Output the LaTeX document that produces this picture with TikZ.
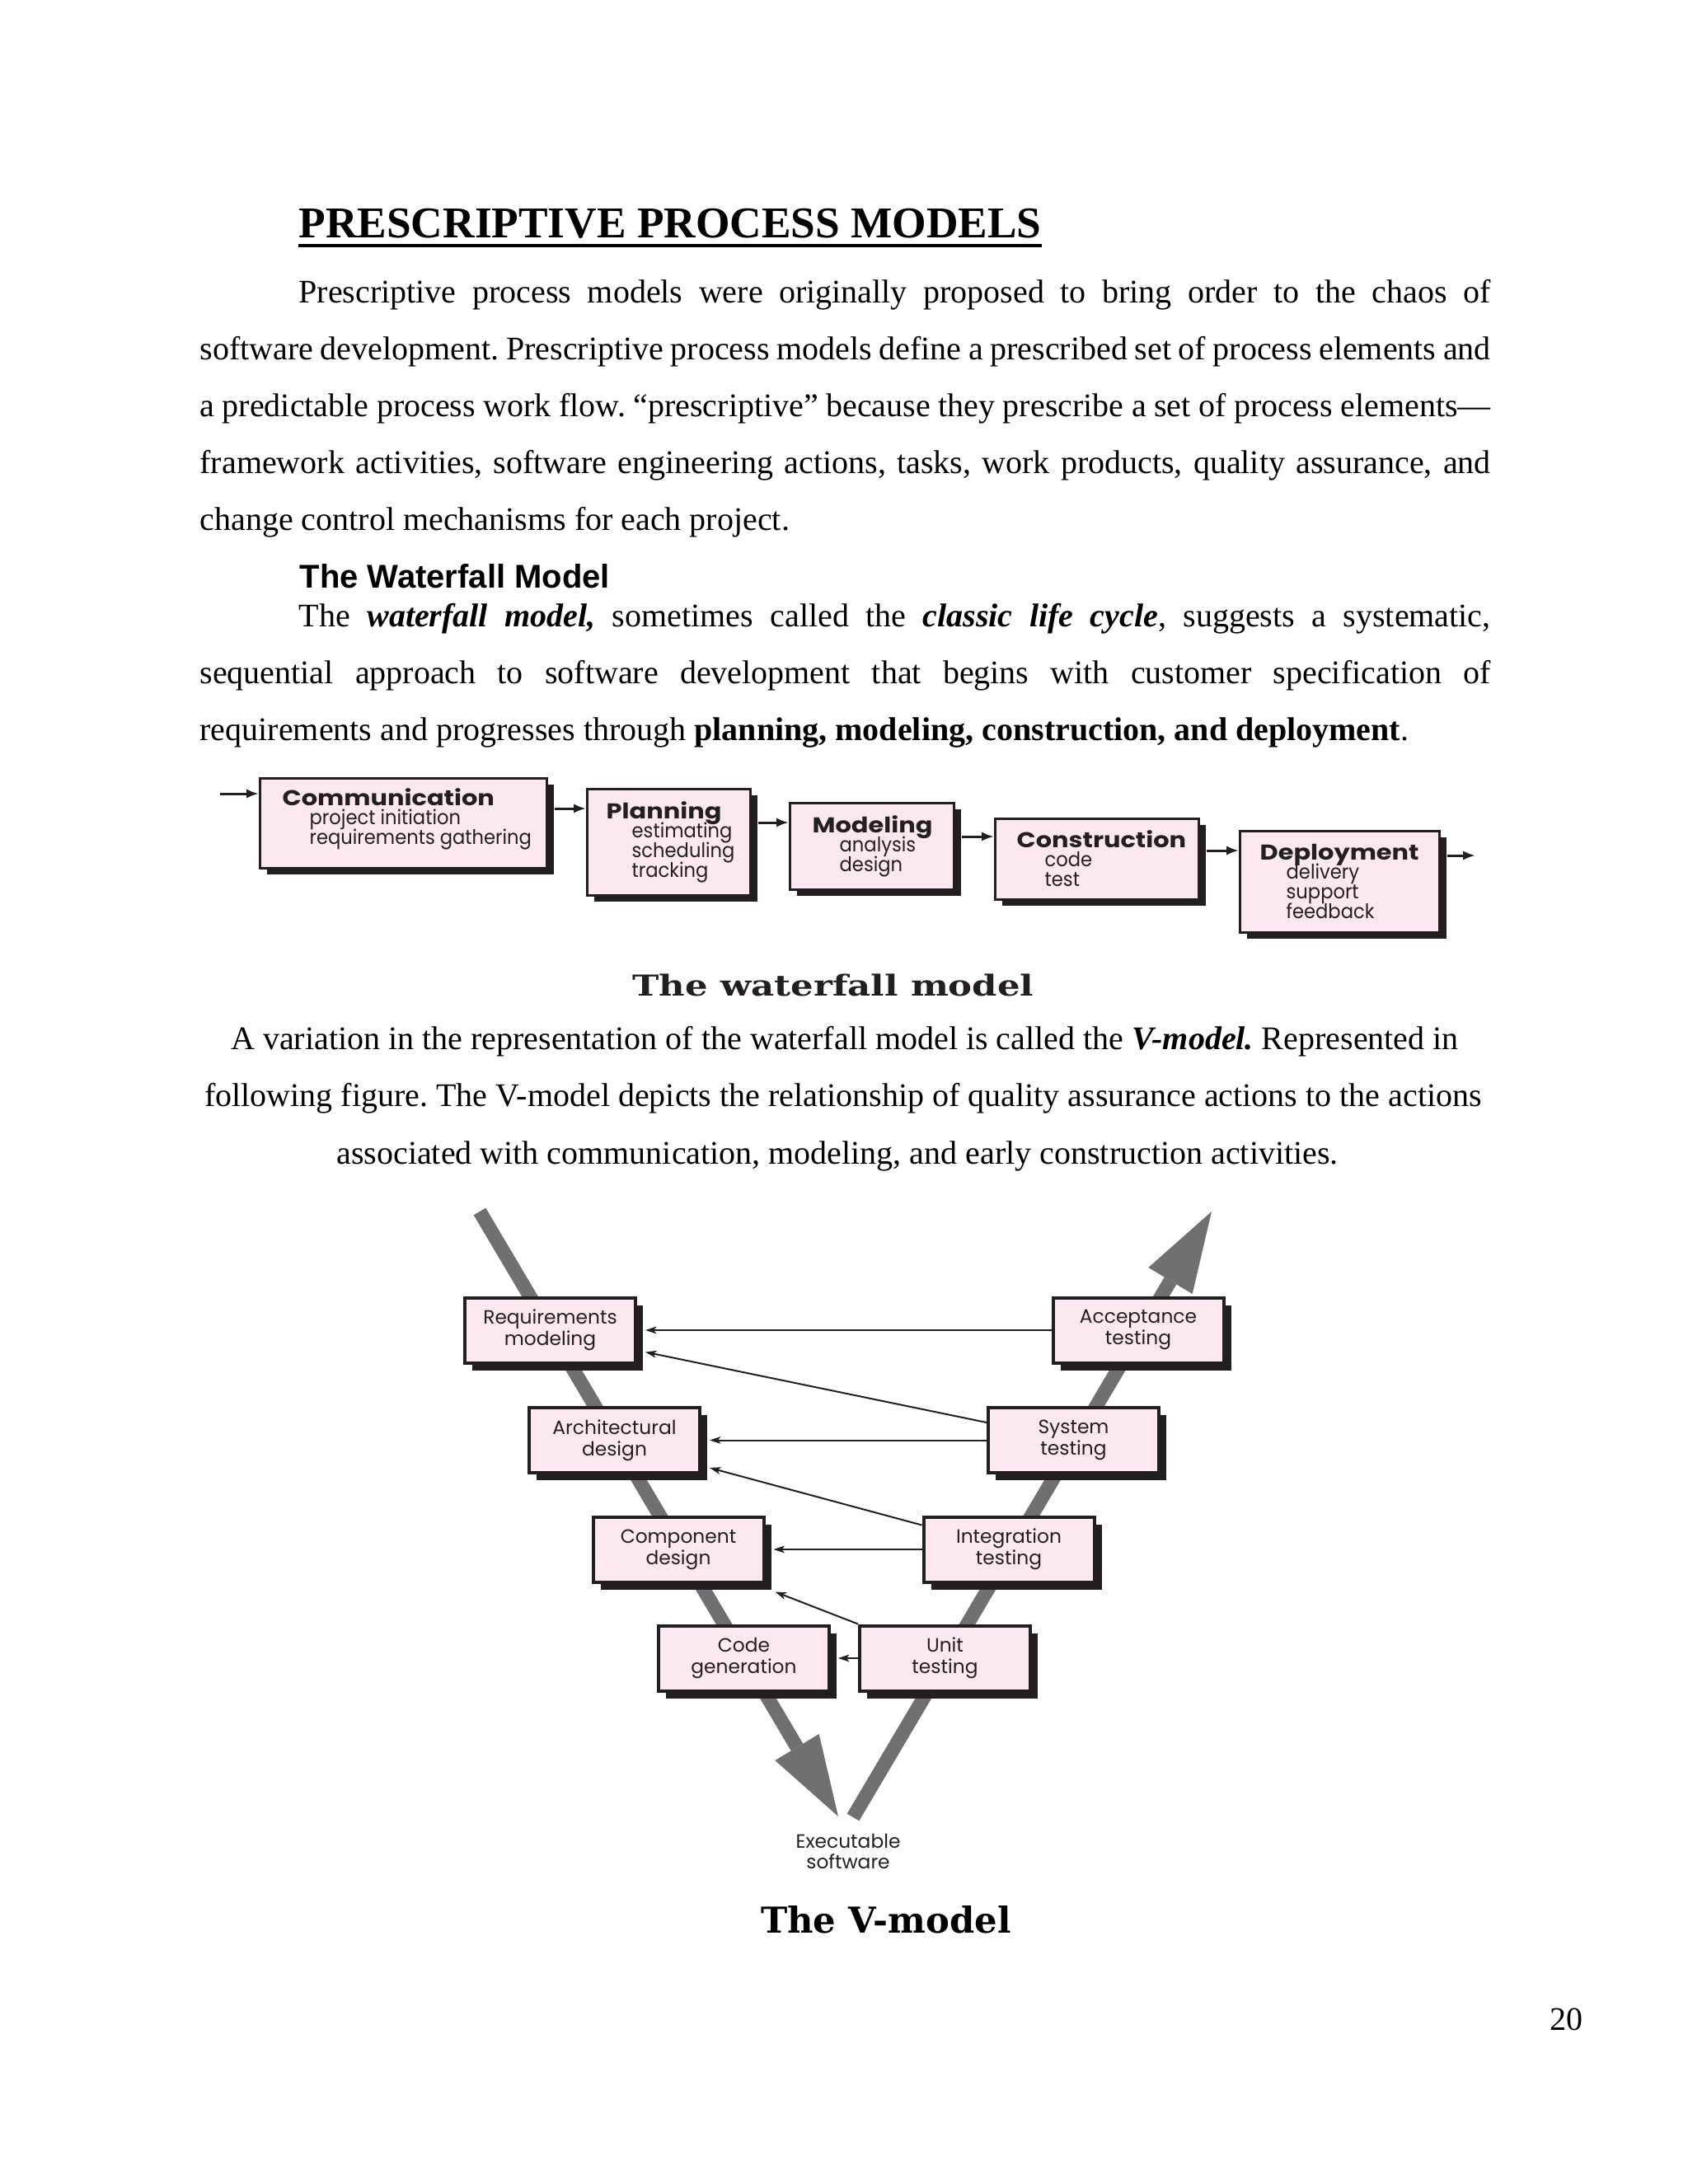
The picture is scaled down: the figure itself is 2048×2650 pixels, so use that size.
\documentclass[tikz,border=0pt]{standalone}
\usepackage{fontspec}
\setmainfont{Liberation Serif}
\newfontfamily\arialfont{Liberation Sans}
\newfontfamily\futfont{Poppins}
\newfontfamily\futitem[FakeStretch=0.93]{Poppins}
\newfontfamily\futwide[FakeStretch=1.17]{Poppins}
\newfontfamily\slabwide[FakeStretch=1.24]{DejaVu Serif}
\newfontfamily\slabfont{DejaVu Serif}
\usetikzlibrary{calc,arrows.meta,shadows}
\definecolor{boxpink}{RGB}{252,232,241}
\definecolor{vgray}{RGB}{112,112,114}
\definecolor{ink}{RGB}{35,31,32}
\frenchspacing
\begin{document}
\begin{tikzpicture}[x=0.3pt,y=-0.3pt,
  bodyl/.style={anchor=base west,inner sep=0,font=\fontsize{12pt}{14pt}\selectfont},
  bodyc/.style={anchor=base,inner sep=0,font=\fontsize{12pt}{14pt}\selectfont},
  wfbox/.style={draw=ink,line width=0.9pt,fill=boxpink,inner sep=0,
    drop shadow={shadow xshift=2.4pt,shadow yshift=-2.2pt,fill=ink,opacity=1}},
  wftext/.style={anchor=base west,inner sep=0,text=ink},
  vbox/.style={draw=ink,line width=1.2pt,fill=boxpink,inner sep=0,
    minimum width=62.1pt,minimum height=23.7pt,align=center,text=ink,
    font=\futfont\fontsize{7pt}{7.8pt}\selectfont,
    drop shadow={shadow xshift=2.7pt,shadow yshift=-2.7pt,fill=ink,opacity=1}},
  wfarr/.style={draw=ink,line width=0.9pt,-{Latex[length=4.5pt,width=3.4pt]}},
  varr/.style={draw=ink,line width=0.6pt,-{Stealth[length=4pt,width=2.6pt,inset=1pt]}},
  band/.style={draw=vgray,line width=5.1pt},
  capt/.style={anchor=base,inner sep=0,text=ink}]
\useasboundingbox (0,0) rectangle (2048,2650);
\fill[white] (0,0) rectangle (2048,2650);

% ---------- heading and text ----------
\node[anchor=base west,inner sep=0,font=\bfseries\fontsize{16pt}{18pt}\selectfont] (title) at (362,288) {PRESCRIPTIVE PROCESS MODELS};
\draw[line width=1.2pt] ($(title.base west)+(0,10)$) -- ($(title.base east)+(0,10)$);

\node[bodyl] (p1a) at (362,367) {\makebox[433.8pt][s]{Prescriptive process models were originally proposed to bring order to the chaos of}};
\node[bodyl] (p1b) at (242,436) {\makebox[469.8pt][s]{software development. Prescriptive process models define a prescribed set of process elements and}};
\node[bodyl] (p1c) at (242,505) {\makebox[469.8pt][s]{a predictable process work flow. “prescriptive” because they prescribe a set of process elements—}};
\node[bodyl] (p1d) at (242,574) {\makebox[469.8pt][s]{framework activities, software engineering actions, tasks, work products, quality assurance, and}};
\node[bodyl] (p1e) at (242,643) {change control mechanisms for each project.};

\node[anchor=base west,inner sep=0,font=\arialfont\bfseries\fontsize{12pt}{14pt}\selectfont] (wfh) at (363,713) {The Waterfall Model};

\node[bodyl] (p2a) at (362,760) {\makebox[433.8pt][s]{The \textbf{\textit{waterfall model,}} sometimes called the \textbf{\textit{classic life cycle}}, suggests a systematic,}};
\node[bodyl] (p2b) at (242,829) {\makebox[469.8pt][s]{sequential approach to software development that begins with customer specification of}};
\node[bodyl] (p2c) at (242,898) {requirements and progresses through \textbf{planning, modeling, construction, and deployment}.};

\node[bodyc] (p3a) at (1025,1273) {A variation in the representation of the waterfall model is called the \textbf{\textit{V-model.}} Represented in};
\node[bodyc] (p3b) at (1023,1342) {following figure. The V-model depicts the relationship of quality assurance actions to the actions};
\node[bodyc] (p3c) at (1016,1412) {associated with communication, modeling, and early construction activities.};

% ---------- waterfall ----------
\node[wfbox,minimum width=104.4pt,minimum height=32.7pt] (comm) at (489.5,999) {};
\node[wfbox,minimum width=59.4pt,minimum height=38.7pt] (plan) at (811.5,1022) {};
\node[wfbox,minimum width=59.7pt,minimum height=31.5pt] (model) at (1058,1027) {};
\node[wfbox,minimum width=74.1pt,minimum height=29.4pt] (cons) at (1331,1042.5) {};
\node[wfbox,minimum width=72.6pt,minimum height=36.9pt] (deploy) at (1625.5,1070) {};

\newcommand{\wfblock}[2]{\parbox[t]{110pt}{\raggedright\lineskiplimit=-20pt\fontsize{7.3pt}{7.1pt}\selectfont
  {\futwide\bfseries\fontsize{7.8pt}{7.1pt}\selectfont #1}\\\futitem #2}}
\node[wftext] (commt) at (342,977) {\wfblock{Communication}{\hspace*{9.9pt}project initiation\\\hspace*{9.9pt}requirements gathering}};
\node[wftext] (plant) at (735,993) {\wfblock{Planning}{\hspace*{9.3pt}estimating\\\hspace*{9.3pt}scheduling\\\hspace*{9.3pt}tracking}};
\node[wftext] (modelt) at (985,1010) {\wfblock{Modeling}{\hspace*{9.9pt}analysis\\\hspace*{9.9pt}design}};
\node[wftext] (const) at (1233,1028) {\wfblock{Construction}{\hspace*{10.2pt}code\\\hspace*{10.2pt}test}};
\node[wftext] (deployt) at (1528,1043) {\wfblock{Deployment}{\hspace*{9.6pt}delivery\\\hspace*{9.6pt}support\\\hspace*{9.6pt}feedback}};

\coordinate (in0) at (267,963);
\draw[wfarr] (in0) -- (in0 -| comm.west);
\path ($(plan.north west)+(0,25)$) coordinate (a1);
\draw[wfarr] ($(comm.east |- a1)+(8,0)$) -- (a1);
\path ($(model.north west)+(0,25)$) coordinate (a2);
\draw[wfarr] ($(plan.east |- a2)+(8,0)$) -- (a2);
\path ($(cons.north west)+(0,23)$) coordinate (a3);
\draw[wfarr] ($(model.east |- a3)+(8,0)$) -- (a3);
\path ($(deploy.north west)+(0,25)$) coordinate (a4);
\draw[wfarr] ($(cons.east |- a4)+(8,0)$) -- (a4);
\coordinate (out0) at (1790,1038);
\draw[wfarr] ($(deploy.east |- out0)+(8,0)$) -- (out0);

\node[capt,font=\slabwide\bfseries\fontsize{10.5pt}{12pt}\selectfont] (wfcap) at (1011,1208) {The waterfall model};

% ---------- V-model ----------
\coordinate (lt) at (582,1470);
\coordinate (lb) at (967,2120);
\coordinate (ltip) at (1017,2204);
\coordinate (lc1) at (993.7,2104);
\coordinate (lc2) at (940.3,2136);
\draw[band] (lt) -- (lb);
\fill[vgray] (lc1) -- (ltip) -- (lc2) -- cycle;
\coordinate (rb) at (1035,2205);
\coordinate (rbase) at (1420,1554);
\coordinate (rtip) at (1470,1470);
\coordinate (rc1) at (1393.3,1538);
\coordinate (rc2) at (1446.7,1570);
\draw[band] (rb) -- (rbase);
\fill[vgray] (rc1) -- (rtip) -- (rc2) -- cycle;

\node[vbox] (req) at (667.5,1614) {Requirements\\modeling};
\node[vbox] (acc) at (1381,1614) {Acceptance\\testing};
\node[vbox] (arch) at (745.5,1747.5) {Architectural\\design};
\node[vbox] (sys) at (1302.5,1747.5) {System\\testing};
\node[vbox] (comp) at (823,1880) {Component\\design};
\node[vbox] (integ) at (1224,1880) {Integration\\testing};
\node[vbox] (code) at (902.5,2012) {Code\\generation};
\node[vbox] (unit) at (1146.5,2012) {Unit\\testing};

\draw[varr] (acc.west) -- ($(req.east)+(10,0)$);
\draw[varr] ($(sys.north west)+(0,20)$) -- ($(req.south east)+(10,-15)$);
\draw[varr] (sys.west) -- ($(arch.east)+(10,0)$);
\draw[varr] ($(integ.north west)+(0,12)$) -- ($(arch.south east)+(10,-8)$);
\draw[varr] (integ.west) -- ($(comp.east)+(10,0)$);
\draw[varr] (unit.north west) -- ($(comp.south east)+(12,10)$);
\draw[varr] (unit.west) -- ($(code.east)+(9,0)$);

\node[capt,font=\futfont\fontsize{7pt}{7.5pt}\selectfont] (exe1) at (1029,2242) {Executable};
\node[capt,font=\futfont\fontsize{7pt}{7.5pt}\selectfont] (exe2) at (1029,2267) {software};

\node[capt,text=black,font=\slabfont\bfseries\fontsize{13pt}{15pt}\selectfont] (vcap) at (1075,2345) {The V-model};

\node[anchor=base east,inner sep=0,font=\fontsize{12pt}{14pt}\selectfont] (pg) at (1921,2463) {20};
\end{tikzpicture}
\end{document}
